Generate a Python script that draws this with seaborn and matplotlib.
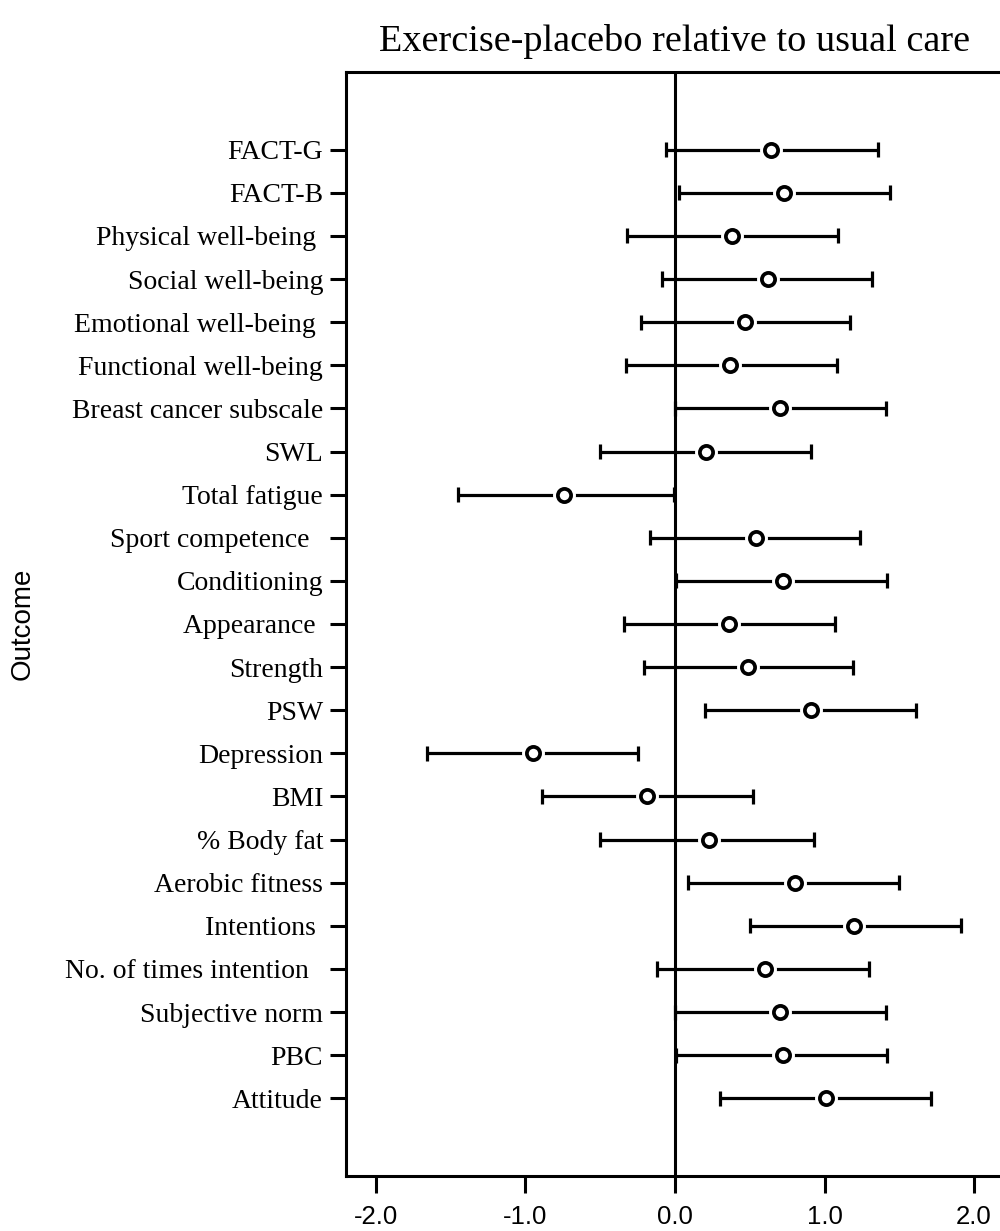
import pandas as pd
import matplotlib
matplotlib.use("Agg")
import matplotlib.pyplot as plt
from matplotlib.ticker import FormatStrFormatter
import seaborn as sns

# outcomes, top to bottom
outcomes = [
    "FACT-G", "FACT-B", "Physical well-being ", "Social well-being",
    "Emotional well-being ", "Functional well-being", "Breast cancer subscale",
    "SWL", "Total fatigue", "Sport competence  ", "Conditioning", "Appearance ",
    "Strength", "PSW", "Depression", "BMI", "% Body fat", "Aerobic fitness",
    "Intentions ", "No. of times intention  ", "Subjective norm", "PBC", "Attitude",
]
effect = [0.64, 0.73, 0.38, 0.62, 0.47, 0.37, 0.70, 0.21, -0.74, 0.54, 0.72, 0.36,
          0.49, 0.91, -0.95, -0.19, 0.23, 0.80, 1.20, 0.60, 0.70, 0.72, 1.01]
ci_low = [-0.06, 0.03, -0.32, -0.09, -0.23, -0.33, 0.00, -0.50, -1.45, -0.17, 0.01, -0.34,
          -0.21, 0.20, -1.66, -0.89, -0.50, 0.09, 0.50, -0.12, 0.00, 0.01, 0.30]
ci_high = [1.36, 1.44, 1.09, 1.32, 1.17, 1.08, 1.41, 0.91, -0.01, 1.24, 1.42, 1.07,
           1.19, 1.61, -0.25, 0.52, 0.93, 1.50, 1.91, 1.30, 1.41, 1.42, 1.71]
x_ticks = [-2.0, -1.0, 0.0, 1.0, 2.0]

# long table: median of (low, effect, high) is the effect, min/max give the interval
long_df = pd.DataFrame({
    "outcome": outcomes * 3,
    "value": ci_low + effect + ci_high,
})
pt_df = pd.DataFrame({"outcome": outcomes, "value": effect})

sns.set_theme(style="ticks")
plt.rcParams["axes.unicode_minus"] = False
plt.rcParams["text.color"] = "black"
plt.rcParams["font.family"] = ["Liberation Serif", "DejaVu Serif"]

fig = plt.figure(figsize=(10, 12.31), dpi=100)
ax = fig.add_axes([0.346, 0.0447, 0.658, 0.8968])

# error bars with caps
sns.pointplot(data=long_df, x="value", y="outcome", order=outcomes,
              estimator="median", errorbar=lambda v: (v.min(), v.max()),
              capsize=0.35, color="black", linestyle="none", marker="",
              err_kws={"linestyle": "-", "linewidth": 2.3, "solid_capstyle": "butt"},
              ax=ax)
# white halo behind point markers
sns.pointplot(data=pt_df, x="value", y="outcome", order=outcomes, errorbar=None,
              color="white", linestyle="none", marker="o", markersize=16.5,
              markeredgewidth=0, ax=ax)
# open circles
sns.pointplot(data=pt_df, x="value", y="outcome", order=outcomes, errorbar=None,
              color="black", linestyle="none", marker="o", markersize=9.5,
              markerfacecolor="white", markeredgecolor="black", markeredgewidth=2.7,
              ax=ax)

for ln in ax.lines:
    if ln.get_marker() == "o":
        ln.set_zorder(4 if ln.get_markeredgecolor() == "black" else 3)

ax.axvline(0, color="black", linewidth=2.2, zorder=1)

ax.set_xlim(-2.2, 2.2)
ax.set_ylim(len(outcomes) - 1 + 1.8, -1.8)
ax.set_xticks(x_ticks)
ax.xaxis.set_major_formatter(FormatStrFormatter("%.1f"))
ax.set_xlabel("")
ax.set_ylabel("")

for lab in ax.get_xticklabels():
    lab.set_family(["Liberation Sans", "DejaVu Sans"])
ax.tick_params(axis="x", direction="out", length=12, width=2.2, pad=9,
               labelsize=18.5, colors="black")
ax.tick_params(axis="y", direction="out", length=11.5, width=2.2, pad=5,
               labelsize=20, colors="black")

for side in ["left", "right", "top", "bottom"]:
    ax.spines[side].set_visible(True)
    ax.spines[side].set_linewidth(2.2)
    ax.spines[side].set_color("black")

ax.set_title("Exercise-placebo relative to usual care", fontsize=27.5, pad=15,
             color="black", family=["Liberation Serif", "DejaVu Serif"])
fig.text(0.023, 0.493, "Outcome", rotation=90, ha="center", va="center",
         fontsize=20, color="black", family=["Liberation Sans", "DejaVu Sans"])

fig.savefig("out.png", dpi=100)
